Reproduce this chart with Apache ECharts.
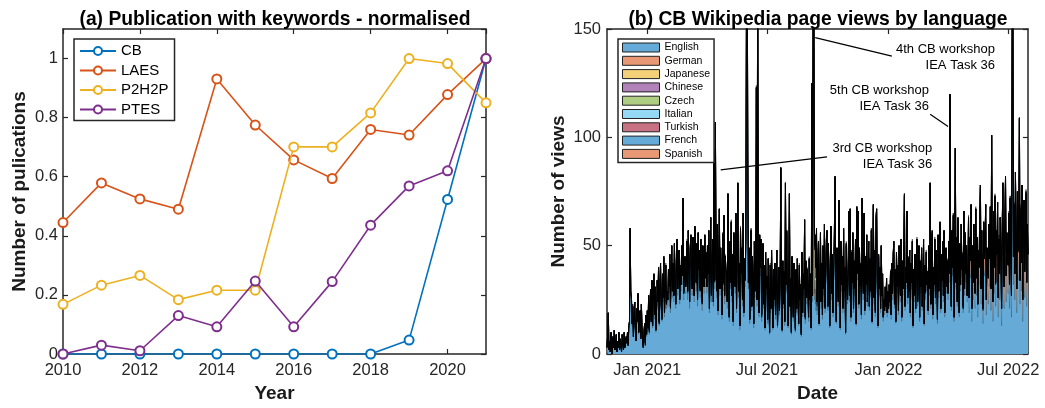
<!DOCTYPE html>
<html><head><meta charset="utf-8">
<script src="https://cdn.jsdelivr.net/npm/echarts@6/dist/echarts.min.js"></script>
<style>html,body{margin:0;padding:0;background:#fff}#c{width:1045px;height:408px}</style>
</head><body><div id="c"></div>
<script>
// ---------------- (a) publications ----------------
const YEARS = [2010,2011,2012,2013,2014,2015,2016,2017,2018,2019,2020,2021];
const CB    = [0,0,0,0,0,0,0,0,0,0.047,0.523,1];
const LAES  = [0.445,0.579,0.525,0.490,0.931,0.775,0.657,0.594,0.760,0.741,0.878,1];
const P2H2P = [0.168,0.233,0.266,0.184,0.216,0.216,0.701,0.701,0.816,1.0,0.983,0.850];
const PTES  = [0,0.030,0.011,0.130,0.092,0.247,0.092,0.245,0.436,0.569,0.620,1];

// ---------------- (b) daily page views, 2020-11-01 .. 2022-07-31 ----------------
const START_DATE = '2020-11-01';
const DATE_TICKS = ['2021-01-01','2021-07-01','2022-01-01','2022-07-01'];
const ENGLISH = [
3,8,18,2,6,1,9,4,0,7, 3,10,2,5,8,1,6,3,9,2, 7,4,1,8,5,2,9,3,6,7,
5,9,4,12,14,52,26,24,13,20, 8,17,22,11,6,19,14,24,9,15, 18,7,21,12,5,3,10,13,4,16, 8,
18,11,24,9,21,27,14,30,12,25, 33,16,28,10,19,31,22,36,13,27, 38,20,15,34,24,40,17,29,37,21, 26,
22,35,28,41,19,33,44,26,38,24, 46,30,21,39,48,27,35,43,23,37, 29,45,32,66,25,34,40,28,
30,47,25,52,38,21,44,50,33,27, 49,36,24,53,41,29,46,22,51,35, 43,26,48,32,20,45,39,28,50,31, 42,
28,45,33,52,19,40,57,24,36,48, 22,88,30,100,42,26,55,18,38,61, 27,44,34,16,50,29,58,23,41,35,
34,21,68,39,15,47,30,56,24,42, 13,51,36,28,60,19,45,72,26,38, 11,53,33,44,22,58,17,40,31,48, 150,
195,88,30,45,14,38,52,20,41,33, 12,47,26,39,116,22,170,44,17,50, 36,48,15,29,46,21,37,11,43,27,
32,14,40,24,9,37,19,42,28,11, 35,22,38,16,30,43,12,27,36,18, 33,80,25,10,39,21,34,13,74,29, 52,
26,12,36,70,20,31,9,41,24,15, 38,28,10,34,19,40,25,13,37,22, 29,8,42,17,33,27,57,14,39,23, 35,
28,15,40,22,33,11,118,24,185,150, 25,30,20,42,18,36,47,13,29,51, 21,38,16,44,27,55,19,34,48,52,
20,46,31,12,39,54,25,42,17,35, 49,75,28,14,44,33,22,66,38,11, 47,29,41,19,53,26,36,9,45,32, 23,
37,60,24,62,15,43,30,51,19,39, 27,48,13,62,34,61,21,45,28,38, 16,66,32,25,60,18,41,29,50,22,
35,47,20,40,26,52,14,37,63,23, 44,17,58,62,30,12,41,27,36,19, 45,24,33,15,22,18,28,20,31,17, 26,
19,29,22,34,16,38,25,41,46,21, 35,14,42,28,37,18,45,31,24,48, 15,39,27,44,66,20,36,30,60,23, 40,
26,43,17,38,30,47,12,35,24,41, 19,36,47,22,33,45,15,39,28,44, 20,31,48,13,37,25,42,29,
34,18,45,27,72,21,40,51,16,36, 29,48,23,43,33,14,50,26,38,55, 19,41,31,46,24,52,17,35,44,28, 39,
25,47,33,110,40,20,52,36,58,15, 44,88,30,49,22,56,38,17,46,29, 54,35,41,19,60,27,50,33,45,24,
28,52,19,43,35,57,15,40,25,49, 33,21,55,27,44,17,38,32,53,65, 23,46,30,14,50,36,42,57,18,39, 31,
23,44,31,51,20,82,37,15,50,28, 55,22,42,33,53,17,39,25,47,35, 13,44,61,30,21,48,62,24,41,32,
28,49,21,55,36,17,135,170,32,53, 25,67,40,19,58,34,46,90,23,51, 29,61,15,43,54,26,39,57,22,45, 33
];
const GERMAN = [
0,1,1,0,0,0,1,0,0,1, 0,1,0,0,1,0,0,0,1,0, 0,1,0,1,0,0,1,0,0,1,
0,1,0,1,1,5,3,2,1,2, 0,1,2,1,0,2,1,3,1,1, 2,0,2,1,0,0,1,1,0,2, 1,
2,1,3,1,2,3,1,3,1,2, 4,2,3,1,2,3,2,4,1,3, 4,2,1,3,2,4,2,3,4,2, 3,
3,4,3,5,2,4,5,3,4,3, 5,4,2,4,5,3,4,5,2,4, 3,5,4,5,3,4,5,3,
4,5,3,5,4,3,5,5,4,3, 5,4,3,5,4,3,5,3,5,4, 5,3,5,4,3,5,4,3,5,4, 5,
3,5,4,5,2,4,6,3,4,5, 2,5,3,6,4,3,5,2,4,6, 3,5,4,2,5,3,6,3,4,4,
4,3,5,4,2,5,3,5,3,4, 2,5,4,3,5,2,4,6,3,4, 2,5,4,5,3,6,2,4,3,5, 8,
10,5,3,4,2,4,5,2,4,3, 2,5,3,4,6,3,8,4,2,5, 4,5,2,3,5,2,4,1,4,3,
4,2,4,3,1,4,2,5,3,1, 4,3,4,2,3,5,1,3,4,2, 4,5,3,1,4,2,4,2,5,3, 4,
3,1,4,4,2,3,1,4,3,2, 4,3,1,4,2,4,3,1,4,3, 3,1,5,2,4,3,4,2,4,3, 4,
3,2,4,3,4,1,6,3,10,8, 3,4,3,5,2,4,5,1,3,5, 3,4,2,5,3,5,2,4,5,5,
2,5,3,1,4,5,3,4,2,4, 5,5,3,1,5,3,2,5,4,1, 5,3,4,2,5,3,4,1,5,3, 2,
4,5,3,5,2,4,3,5,2,4, 3,5,1,5,3,5,2,4,3,4, 2,5,3,3,5,2,4,3,5,2,
4,5,2,4,3,5,1,4,5,3, 4,2,5,5,3,1,4,3,4,2, 5,3,4,2,3,2,3,2,4,2, 3,
2,3,2,4,2,4,3,5,5,2, 4,1,5,3,4,2,5,3,3,5, 2,4,3,5,6,2,4,3,6,3, 4,
3,5,2,4,3,5,1,4,3,5, 2,4,5,2,4,5,2,4,3,5, 2,3,5,1,4,3,5,3,
4,2,5,3,6,2,4,5,2,4, 3,5,3,5,4,2,5,3,4,5, 2,5,3,5,3,5,2,4,5,3, 4,
3,5,4,8,4,2,5,4,6,2, 5,6,3,5,2,6,4,2,5,3, 6,4,5,2,6,3,5,4,5,3,
8,11,7,10,8,12,6,10,8,11, 8,7,12,8,10,6,10,8,11,12, 7,11,8,6,11,8,10,12,7,10, 8,
12,16,13,17,10,18,14,9,16,12, 18,10,15,13,17,9,14,12,16,14, 8,15,17,13,10,16,18,12,15,13,
13,16,11,17,14,10,17,20,13,16, 12,17,14,11,17,13,15,18,11,16, 13,17,10,15,17,12,14,17,11,15, 13
];
const JAPANESE = [
0,0,0,0,0,0,0,0,0,0, 0,0,0,0,0,0,0,0,0,0, 0,0,0,0,0,0,0,0,0,0,
0,0,0,0,0,1,0,0,0,0, 0,0,0,0,0,0,0,0,0,0, 0,0,0,0,0,0,0,0,0,0, 0,
0,0,0,0,0,0,0,1,0,0, 0,0,0,0,0,0,0,0,0,0, 0,1,0,0,0,0,0,0,0,0, 0,
0,0,0,0,0,0,1,0,0,0, 0,0,0,0,0,0,0,0,0,0, 0,0,0,1,0,0,0,0,
0,0,1,0,0,0,0,0,0,0, 0,0,0,0,0,1,0,0,0,0, 0,0,0,0,0,0,0,0,0,0, 0,
0,0,0,0,0,0,0,0,0,0, 0,1,0,1,0,0,0,0,0,0, 0,0,0,0,0,0,0,1,0,0,
0,0,1,0,0,0,0,0,0,0, 0,0,0,0,0,0,0,0,0,0, 0,0,0,0,0,1,0,0,0,0, 1,
1,0,0,0,0,0,0,0,0,0, 0,0,0,0,1,0,1,0,0,0, 0,0,0,0,0,0,0,0,0,0,
0,0,0,0,0,0,0,1,0,0, 0,0,0,0,0,0,0,0,0,0, 0,1,0,0,0,0,0,0,0,0, 0,
0,0,0,0,0,0,0,0,0,0, 0,0,0,1,0,0,0,0,0,0, 0,0,0,0,0,0,1,0,0,0, 0,
0,0,0,0,0,0,1,0,2,15, 20,18,12,6,2,1,0,0,0,0, 0,0,0,1,0,0,0,0,0,0,
0,0,0,0,0,0,0,0,0,0, 1,1,0,0,0,0,0,0,0,0, 0,0,0,0,0,0,0,0,0,0, 0,
0,1,0,0,0,0,0,0,0,0, 0,0,0,0,0,0,0,0,0,0, 0,1,0,0,0,0,0,0,0,0,
0,0,0,0,0,0,0,0,1,0, 0,0,0,0,0,0,0,0,0,0, 0,0,0,0,0,0,0,0,0,0, 0,
0,0,0,0,0,0,0,0,0,0, 0,0,0,0,0,0,0,0,0,0, 0,0,0,0,1,0,0,0,0,0, 0,
0,0,0,0,0,0,0,0,0,0, 0,0,1,0,0,0,0,0,0,0, 0,0,0,0,0,0,0,0,
0,0,0,0,1,0,0,0,0,0, 0,0,0,0,0,0,0,0,0,0, 0,0,0,1,0,0,0,0,0,0, 0,
0,0,0,1,0,0,0,0,0,0, 0,1,0,0,0,0,0,0,0,0, 0,0,0,0,0,0,0,0,0,0,
0,0,0,0,0,0,0,0,0,0, 0,0,0,0,0,0,0,0,1,1, 0,0,0,0,0,0,0,0,0,0, 0,
0,0,0,0,0,1,0,0,0,0, 0,0,0,0,0,0,0,0,0,0, 0,0,1,0,0,0,1,0,0,0,
0,0,0,0,0,0,1,2,0,0, 0,0,0,0,0,0,0,1,0,0, 0,0,0,0,0,0,0,0,0,0, 0
];
const CHINESE = [
0,0,0,0,0,0,0,0,0,0, 0,0,0,0,0,0,0,0,0,0, 0,0,0,0,0,0,0,0,0,0,
0,0,0,0,0,0,0,0,0,0, 0,0,0,0,0,0,0,1,0,0, 0,0,0,0,0,0,0,0,0,0, 0,
0,0,0,0,0,0,0,0,0,0, 0,0,0,0,0,0,0,0,0,0, 0,0,0,0,0,1,0,0,0,0, 0,
0,0,0,0,1,0,0,0,0,0, 0,0,0,0,0,0,0,0,0,0, 0,0,0,0,0,0,0,0,
0,0,0,0,0,0,0,0,0,0, 0,0,0,1,0,0,0,0,0,0, 0,0,0,0,0,0,0,0,0,0, 0,
0,0,0,0,0,0,0,0,0,0, 0,0,1,0,0,0,0,0,0,0, 0,0,0,0,0,1,0,0,0,0,
0,0,0,0,0,0,0,0,0,0, 0,0,0,0,0,0,0,1,0,0, 0,0,0,0,0,0,0,0,0,0, 1,
0,1,0,0,0,0,0,0,0,0, 0,0,0,0,0,0,1,0,0,0, 0,0,0,0,0,0,0,0,0,0,
0,0,0,0,0,0,0,0,0,0, 0,0,0,0,1,0,0,0,0,0, 0,0,0,0,0,0,0,0,0,0, 0,
0,0,0,0,0,0,0,0,0,0, 0,0,0,0,0,0,0,0,0,0, 0,0,0,0,0,0,0,1,0,0, 0,
0,0,0,0,0,0,0,0,1,1, 2,3,5,4,2,1,0,0,0,0, 0,0,0,0,0,0,0,0,0,0,
0,0,0,0,0,0,0,0,0,0, 0,1,0,0,0,0,0,0,0,0, 0,0,0,0,0,0,0,0,0,0, 0,
0,0,0,0,0,0,0,0,0,0, 0,0,0,1,0,0,0,0,0,0, 0,0,0,0,0,0,0,0,0,0,
0,0,0,0,0,0,0,0,0,0, 0,0,0,0,0,0,0,0,0,0, 0,0,0,0,0,0,0,0,0,0, 0,
0,0,0,0,0,0,0,0,1,0, 0,0,0,0,0,0,0,0,0,0, 0,0,0,0,0,0,0,0,0,0, 0,
0,0,0,0,0,0,0,0,0,0, 0,0,0,0,0,0,0,0,0,0, 0,0,0,0,0,1,0,0,
0,0,0,0,0,0,0,0,0,0, 0,0,0,0,0,0,0,0,0,1, 0,0,0,0,0,0,0,0,0,0, 0,
0,0,0,1,0,0,0,0,0,0, 0,0,0,0,0,0,0,0,0,0, 0,0,0,0,0,0,1,0,0,0,
0,0,0,0,0,0,0,0,0,0, 0,0,0,0,0,0,0,0,0,0, 0,0,0,1,0,0,0,0,0,0, 0,
0,0,0,0,0,0,0,0,0,0, 0,1,0,0,0,0,0,0,0,0, 0,0,0,0,0,0,0,0,0,0,
0,0,0,0,0,0,0,1,0,0, 0,0,0,0,0,0,0,0,0,0, 0,0,0,0,0,0,0,0,0,0, 0
];
const CZECH = [
0,0,0,0,0,0,0,0,0,0, 0,0,0,0,0,0,0,0,0,0, 0,0,0,0,0,0,0,0,0,0,
0,0,0,0,0,0,0,0,0,0, 0,0,0,0,0,0,0,0,0,0, 0,0,0,0,0,0,0,0,1,0, 0,
0,0,0,1,0,0,0,0,0,0, 0,0,0,0,0,0,0,0,0,0, 0,0,0,0,0,0,0,0,0,0, 0,
0,0,0,0,0,0,0,0,0,0, 0,0,0,0,0,0,1,0,0,0, 0,0,0,0,0,0,0,0,
0,0,0,0,0,0,0,0,0,0, 0,0,0,0,0,0,0,0,0,0, 0,0,0,0,1,0,0,0,0,0, 0,
0,0,0,0,0,0,0,0,0,0, 0,0,0,0,0,0,0,0,1,0, 0,0,0,0,0,0,0,0,0,0,
0,0,0,0,0,0,1,0,0,0, 0,0,0,0,0,0,0,0,0,0, 0,0,0,0,0,0,0,0,0,0, 0,
0,0,0,0,0,0,0,0,0,0, 0,0,0,0,0,0,0,0,0,0, 0,0,1,0,0,0,0,0,0,0,
0,0,0,0,0,0,0,0,0,0, 0,0,0,0,0,0,0,0,0,0, 0,0,0,0,0,0,0,0,0,0, 1,
0,0,0,0,0,1,0,0,0,0, 0,0,0,0,0,0,0,0,0,0, 0,0,0,0,0,0,0,0,0,0, 0,
0,0,0,0,0,0,0,0,0,0, 0,0,0,1,0,0,0,0,0,0, 0,0,0,0,0,0,0,0,0,0,
0,0,0,0,0,0,0,0,0,0, 0,0,0,0,0,0,0,0,0,0, 0,0,0,0,0,0,0,0,1,0, 0,
0,0,1,0,0,0,0,0,0,0, 0,0,0,0,0,0,0,0,0,0, 0,0,0,0,0,0,0,0,0,0,
0,0,0,0,0,0,0,0,0,0, 0,0,0,0,0,0,1,0,0,0, 0,0,0,0,0,0,0,0,0,0, 0,
0,0,0,0,0,0,0,0,0,0, 0,0,0,0,0,0,0,0,0,0, 0,0,0,0,0,0,0,0,0,0, 0,
0,0,0,0,0,0,0,0,1,0, 0,0,0,0,0,0,0,0,0,0, 0,0,0,0,0,0,0,0,
0,0,0,0,0,0,0,0,0,0, 0,0,0,0,0,0,0,0,0,0, 0,0,0,0,0,0,0,1,0,0, 0,
0,0,0,0,0,0,0,0,0,0, 0,0,0,0,0,1,0,0,0,0, 0,0,0,0,0,0,0,0,0,0,
0,0,0,1,0,0,0,0,0,0, 0,0,0,0,0,0,0,0,0,0, 0,0,0,0,0,0,0,0,0,0, 0,
0,0,0,0,0,0,0,0,0,0, 0,0,0,0,0,0,0,0,0,0, 0,0,0,0,0,0,1,0,0,0,
0,0,0,0,0,0,0,0,0,0, 0,0,0,0,0,1,0,0,0,0, 0,0,0,0,0,0,0,0,0,0, 0
];
const ITALIAN = [
0,0,0,0,0,0,0,0,0,0, 0,0,0,0,0,0,0,0,0,0, 0,0,0,0,0,0,0,0,0,0,
0,0,0,0,0,0,0,0,0,0, 0,0,0,0,0,0,0,0,0,0, 0,0,0,0,0,0,0,0,0,0, 1,
0,0,0,0,0,0,0,0,0,0, 0,0,0,0,0,0,0,0,1,0, 0,0,0,0,0,0,0,0,0,0, 0,
0,0,1,0,0,0,0,0,0,0, 0,0,0,0,0,0,0,0,0,0, 0,0,0,0,0,0,0,0,
0,0,0,0,0,0,0,0,0,0, 0,0,0,0,0,0,0,0,0,0, 0,1,0,0,0,0,0,0,0,0, 0,
0,0,0,0,0,0,0,1,0,0, 0,0,0,0,0,0,0,0,0,0, 0,0,0,0,0,0,0,0,0,0,
0,0,0,0,0,0,0,0,0,0, 0,0,0,0,0,1,0,0,0,0, 0,0,0,0,0,0,0,0,0,0, 0,
0,0,0,0,0,0,0,0,0,1, 0,0,0,0,0,0,0,0,0,0, 0,0,0,0,0,0,0,0,0,0,
0,0,0,0,0,0,0,0,0,0, 0,0,0,0,0,0,0,0,0,0, 0,0,0,0,0,1,0,0,0,0, 0,
0,0,0,0,0,0,0,0,0,0, 0,0,1,0,0,0,0,0,0,0, 0,0,0,0,0,0,0,0,0,0, 0,
0,0,0,0,0,0,0,0,0,0, 0,0,0,0,0,0,0,0,0,0, 0,0,0,0,0,0,1,0,0,0,
0,0,0,0,1,0,0,0,0,0, 0,0,0,0,0,0,0,0,0,0, 0,0,0,0,0,0,0,0,0,0, 0,
0,0,0,0,0,0,0,0,0,0, 0,0,0,0,0,0,0,0,0,0, 0,0,0,0,0,0,0,1,0,0,
0,0,0,0,0,0,0,0,0,0, 0,1,0,0,0,0,0,0,0,0, 0,0,0,0,0,0,0,0,0,0, 0,
0,0,0,0,0,0,0,0,0,0, 0,0,0,0,0,0,0,0,0,0, 0,0,0,0,1,0,0,0,0,0, 0,
0,0,0,0,0,0,0,0,0,0, 0,0,0,0,1,0,0,0,0,0, 0,0,0,0,0,0,0,0,
0,0,0,0,0,0,0,1,0,0, 0,0,0,0,0,0,0,0,0,0, 0,0,0,0,0,0,0,0,0,0, 0,
0,0,0,0,0,0,0,0,0,0, 0,0,0,0,0,0,0,0,0,0, 0,0,0,1,0,0,0,0,0,0,
0,0,0,0,0,0,0,0,0,0, 0,0,0,0,0,0,0,0,1,0, 0,0,0,0,0,0,0,0,0,0, 0,
0,0,1,0,0,0,0,0,0,0, 0,0,0,0,0,0,0,0,0,0, 0,0,0,0,0,0,0,0,0,0,
0,0,0,0,0,0,0,0,0,0, 0,0,0,0,0,0,0,0,0,0, 0,0,0,0,0,0,0,1,0,0, 0
];
const TURKISH = [
0,0,0,0,0,0,0,0,0,0, 0,0,0,0,0,0,0,0,0,0, 0,0,0,0,0,0,0,0,0,0,
0,0,0,0,0,0,0,0,0,0, 0,0,0,0,0,0,0,0,0,0, 0,0,0,0,0,0,0,0,0,0, 0,
0,0,0,0,0,0,0,0,0,0, 0,0,0,0,0,0,0,0,0,0, 0,0,0,0,0,0,0,0,0,0, 0,
0,0,0,0,0,0,0,0,0,0, 0,0,0,0,0,0,0,0,0,0, 0,0,0,0,0,1,0,0,
0,0,0,0,0,0,0,0,0,0, 0,0,0,0,0,0,0,0,0,0, 0,0,0,0,0,0,0,0,0,0, 0,
0,0,0,0,0,0,0,0,0,0, 0,0,0,0,0,1,0,0,0,0, 0,0,0,0,0,0,0,0,0,0,
0,0,0,0,0,0,0,0,0,0, 0,0,0,0,0,0,0,0,0,0, 0,0,0,0,0,0,0,0,0,0, 0,
0,0,0,0,0,0,0,0,0,0, 0,0,0,0,0,0,0,0,0,0, 0,0,0,0,0,0,0,0,0,0,
0,0,0,0,0,0,0,0,1,0, 0,0,0,0,0,0,0,0,0,0, 0,0,0,0,0,0,0,0,0,0, 0,
0,0,0,0,0,0,0,0,0,0, 0,0,0,0,0,0,0,0,0,0, 0,0,0,0,0,0,0,0,0,0, 0,
0,0,0,0,0,0,0,0,0,0, 0,0,0,0,0,0,0,0,0,0, 0,0,0,0,0,0,0,0,0,0,
0,0,0,0,0,0,0,0,0,0, 0,0,0,0,0,0,0,0,0,0, 0,0,0,1,0,0,0,0,0,0, 0,
0,0,0,0,0,0,0,0,0,0, 0,0,0,0,0,0,0,0,0,0, 0,0,0,0,0,0,0,0,0,0,
0,0,0,0,0,0,0,0,0,0, 0,0,0,0,0,0,0,0,0,0, 0,0,0,0,0,0,0,0,0,0, 0,
0,0,0,0,0,0,0,0,0,0, 0,0,0,0,0,0,0,1,0,0, 0,0,0,0,0,0,0,0,0,0, 0,
0,0,0,0,0,0,0,0,0,0, 0,0,0,0,0,0,0,0,0,0, 0,0,0,0,0,0,0,0,
0,0,0,0,0,0,0,0,0,0, 0,0,0,0,0,0,0,0,0,0, 0,0,0,0,0,0,0,0,0,0, 0,
0,0,0,0,0,0,0,0,0,0, 0,0,0,0,0,0,0,0,0,0, 0,1,0,0,0,0,0,0,0,0,
0,0,0,0,0,0,0,0,0,0, 0,0,0,0,0,0,0,0,0,0, 0,0,0,0,0,0,0,0,0,0, 0,
0,0,0,0,0,0,0,0,0,0, 0,0,0,0,0,0,0,1,0,0, 0,0,0,0,0,0,0,0,0,0,
0,0,0,0,0,0,0,0,0,0, 0,0,0,0,0,0,0,0,0,0, 0,0,0,0,0,0,0,0,0,0, 0
];
const FRENCH = [
0,0,0,0,0,0,0,0,0,0, 0,0,0,0,0,0,0,0,0,0, 0,0,0,0,0,0,0,0,0,0,
0,0,0,0,0,0,0,0,0,1, 0,0,0,0,0,0,0,0,0,0, 0,0,0,0,0,0,0,0,0,0, 0,
0,0,0,0,0,0,0,0,0,0, 0,0,0,0,0,0,0,0,0,0, 0,0,1,0,0,0,0,0,0,0, 0,
0,0,0,0,0,0,0,0,0,0, 0,0,0,0,0,0,0,0,1,0, 0,0,0,0,0,0,0,0,
0,0,0,0,0,1,0,0,0,0, 0,0,0,0,0,0,0,0,0,0, 0,0,0,0,0,0,0,0,0,0, 0,
0,0,0,0,0,0,0,0,0,0, 0,0,0,0,0,0,0,0,0,0, 0,0,0,0,1,0,0,0,0,0,
0,0,0,0,0,0,0,0,0,0, 0,0,0,0,0,0,0,0,0,0, 0,0,0,0,0,0,0,0,1,0, 0,
0,0,0,0,0,0,1,0,0,0, 0,0,0,0,0,0,0,0,0,0, 0,0,0,0,0,0,0,0,0,0,
0,0,0,0,0,0,0,0,0,0, 0,0,0,0,0,0,0,0,0,1, 0,0,0,0,0,0,0,0,0,0, 0,
0,0,0,0,0,0,0,0,0,0, 0,0,0,0,0,0,0,0,0,0, 0,1,0,0,0,0,0,0,0,0, 0,
0,0,0,0,0,0,0,0,1,0, 0,0,0,0,0,0,0,0,0,0, 0,0,0,0,0,0,0,0,0,0,
0,0,0,0,0,0,0,0,0,0, 0,0,0,0,0,0,1,0,0,0, 0,0,0,0,0,0,0,0,0,0, 0,
0,0,0,0,0,0,0,0,0,0, 0,0,0,0,0,0,0,0,0,0, 0,0,0,0,0,1,0,0,0,0,
0,0,0,0,0,1,0,0,0,0, 0,0,0,0,0,0,0,0,0,0, 0,0,0,0,0,0,0,0,0,0, 0,
0,0,0,0,0,0,0,0,0,0, 0,0,0,0,0,0,0,0,0,0, 0,0,0,0,0,0,0,0,0,0, 1,
0,0,0,0,0,0,0,0,0,0, 0,0,0,1,0,0,0,0,0,0, 0,0,0,0,0,0,0,0,
0,0,0,0,0,0,0,0,0,0, 0,0,0,0,0,0,0,0,0,0, 0,0,0,0,0,0,0,0,0,1, 0,
0,0,0,0,0,0,0,0,1,0, 0,0,0,0,0,0,0,0,0,0, 0,0,0,0,0,0,0,0,0,0,
0,0,0,0,0,0,0,0,0,0, 0,0,0,0,0,0,0,0,0,0, 0,0,1,0,0,0,0,0,0,0, 0,
0,0,0,0,0,0,0,0,0,0, 0,0,0,0,0,0,0,1,0,0, 0,0,0,0,0,0,0,0,0,0,
0,0,0,1,0,0,0,0,0,0, 0,0,0,0,0,0,0,0,0,0, 0,0,0,0,0,0,0,0,0,0, 0
];
const SPANISH = [
0,0,0,0,0,0,0,0,0,0, 0,0,0,0,0,0,0,0,0,0, 0,0,0,0,0,0,0,0,0,0,
0,0,0,0,0,0,0,0,0,0, 0,0,0,0,0,0,0,0,0,1, 0,0,0,0,0,0,0,0,0,0, 0,
0,0,0,0,0,0,0,0,1,0, 0,0,0,0,0,0,0,0,0,0, 0,0,0,0,0,0,0,0,1,0, 0,
0,0,0,0,0,0,0,0,0,0, 0,0,1,0,0,0,0,0,0,0, 0,0,0,0,1,0,0,0,
0,1,0,0,0,0,0,0,0,0, 0,0,0,0,0,0,0,1,0,0, 0,0,0,0,0,0,0,0,0,0, 0,
0,0,0,0,0,0,0,0,0,0, 0,1,0,0,0,0,0,0,0,0, 0,0,0,0,0,0,0,0,1,0,
0,0,0,0,0,0,0,1,0,0, 0,0,0,0,0,0,0,0,0,0, 0,1,0,0,0,0,0,0,0,0, 0,
0,0,0,0,0,0,0,0,0,0, 0,0,0,0,1,0,0,0,0,0, 0,0,0,0,0,0,0,0,0,1,
0,0,0,0,0,1,0,0,0,0, 0,0,0,0,0,0,0,0,0,0, 0,0,0,0,0,0,0,1,0,0, 0,
0,0,0,0,0,0,0,0,0,0, 0,0,0,0,0,0,0,0,1,0, 0,0,0,0,0,0,0,0,0,0, 1,
0,0,1,0,0,0,0,0,0,0, 0,0,0,0,0,0,0,0,0,0, 0,0,0,0,1,0,0,0,0,0,
0,0,0,0,0,0,0,0,0,0, 0,0,0,0,0,0,1,0,0,0, 0,0,0,0,0,0,0,0,1,0, 0,
0,0,0,0,0,1,0,0,0,0, 0,0,0,0,0,0,0,0,0,0, 0,0,0,0,0,0,0,1,0,0,
0,0,0,0,0,0,0,0,0,0, 0,0,0,0,1,0,0,0,0,0, 0,0,0,0,0,0,0,0,0,0, 0,
0,0,0,1,0,0,0,0,0,0, 0,0,0,0,0,0,0,0,1,0, 0,0,0,0,0,0,0,0,0,0, 0,
0,0,0,0,0,1,0,0,0,0, 0,0,1,0,0,0,0,0,0,0, 0,0,0,0,0,0,1,0,
0,0,0,0,0,0,0,0,0,0, 0,1,0,0,0,0,0,0,1,0, 0,0,0,0,0,0,0,0,0,0, 1,
0,0,1,0,0,0,0,0,0,0, 0,0,0,0,1,0,0,0,0,0, 0,0,1,0,0,0,0,0,0,0,
0,1,0,0,0,0,2,0,0,0, 0,0,1,0,0,0,0,0,1,0, 0,0,0,0,0,2,0,0,0,0, 1,
0,0,1,0,0,0,0,2,0,0, 1,0,0,0,0,0,2,0,0,0, 0,1,0,0,0,0,0,1,0,0,
0,1,0,0,0,2,0,0,0,1, 0,0,0,1,0,0,0,0,0,2, 0,0,1,0,0,0,0,1,0,0, 0
];
const LANG_NAMES = ['English','German','Japanese','Chinese','Czech','Italian','Turkish','French','Spanish'];
const LANG_DATA  = [ENGLISH, GERMAN, JAPANESE, CHINESE, CZECH, ITALIAN, TURKISH, FRENCH, SPANISH];

// annotations: [text, text-anchor date, text-anchor value, arrow tail date, tail value, arrow head date, head value]
const ANNOTATIONS = [
  ['4th CB workshop\nIEA Task 36', '2022-06-11', 137, '2022-01-06', 137.5, '2021-09-12', 146],
  ['5th CB workshop\nIEA Task 36', '2022-03-03', 118, '2022-03-05', 110.7, '2022-04-01', 105],
  ['3rd CB workshop\nIEA Task 36', '2022-03-08', 91,  '2021-09-30', 91,    '2021-04-22', 85]
];

// ------------------------------------------------------------------
LANG_DATA.forEach((a, i) => {
  if (a.length !== ENGLISH.length) throw new Error(LANG_NAMES[i] + ' has ' + a.length + ' values, English has ' + ENGLISH.length);
});
const t0 = Date.parse(START_DATE + 'T00:00:00Z');
const DATES = ENGLISH.map((_, i) => new Date(t0 + i * 86400000).toISOString().slice(0, 10));
const MONTHS = ['Jan','Feb','Mar','Apr','May','Jun','Jul','Aug','Sep','Oct','Nov','Dec'];

const FONT = '"Liberation Sans", Arial, Helvetica, sans-serif';
const AX = '#262626';
const PUB_COLORS = ['#0072BD', '#D95319', '#EDB120', '#7E2F8E'];
const LANG_COLORS = ['#66aad7','#e89875','#f4d079','#b282bb','#adcd83','#94d8f5','#c77282','#66aad7','#e89875'];
// edge colour of each stacked area: lower layers lighter (thin edges), top layers black
const EDGE_COLORS = ['rgba(0,0,0,0.4)','rgba(0,0,0,0.45)','#000','#000','#000','#000','#000','#000','#000'];

function frameAxis(extra) {
  return Object.assign({
    axisLine: { show: true, onZero: false, lineStyle: { color: AX, width: 1.5 } },
    axisTick: { show: true, inside: true, length: 5, lineStyle: { color: AX, width: 1.2 } },
    axisLabel: { show: false },
    splitLine: { show: false }
  }, extra);
}
const labelStyle = { show: true, color: AX, fontSize: 16.5, fontFamily: FONT };
const nameStyle = { color: '#1a1a1a', fontSize: 19, fontWeight: 'bold', fontFamily: FONT };
const isDateTick = (i, v) => DATE_TICKS.indexOf(v) >= 0;

const pubSeries = [['CB', CB], ['LAES', LAES], ['P2H2P', P2H2P], ['PTES', PTES]].map(([name, vals], k) => ({
  name, type: 'line', xAxisIndex: 0, yAxisIndex: 0,
  data: YEARS.map((y, i) => [y, vals[i]]),
  symbol: 'emptyCircle', symbolSize: 9,
  color: PUB_COLORS[k],
  lineStyle: { color: PUB_COLORS[k], width: 1.6 },
  itemStyle: { color: PUB_COLORS[k], borderWidth: 1.5 },
  z: 3 + k
}));

const langSeries = LANG_NAMES.map((name, k) => ({
  name, type: 'line', xAxisIndex: 2, yAxisIndex: 2, stack: 'views',
  data: LANG_DATA[k],
  showSymbol: false, symbol: 'none',
  lineStyle: { color: EDGE_COLORS[k], width: 0.5 },
  areaStyle: { color: LANG_COLORS[k], opacity: 1 },
  itemStyle: { color: LANG_COLORS[k] },
  emphasis: { disabled: true },
  z: 2
}));

const annotSeries = {
  name: '__annot', type: 'line', xAxisIndex: 2, yAxisIndex: 2, data: [], silent: true, z: 10,
  markLine: {
    silent: true, animation: false,
    symbol: ['none', 'arrow'], symbolSize: [0, 11],
    lineStyle: { color: '#000', width: 1.2, type: 'solid' },
    label: { show: false }, emphasis: { disabled: true },
    data: ANNOTATIONS.map(a => [{ coord: [a[3], a[4]] }, { coord: [a[5], a[6]] }])
  },
  markPoint: {
    silent: true, animation: false, symbol: 'circle', symbolSize: 0,
    itemStyle: { color: 'rgba(0,0,0,0)' },
    label: { show: true, position: 'inside', align: 'right', verticalAlign: 'middle',
             color: '#000', fontSize: 13, lineHeight: 16, fontFamily: FONT },
    data: ANNOTATIONS.map(a => ({ coord: [a[1], a[2]], label: { formatter: a[0] } }))
  }
};

const option = {
  animation: false,
  backgroundColor: '#fff',
  textStyle: { fontFamily: FONT },
  title: [
    { text: '(a) Publication with keywords - normalised', left: 270, top: 5, textAlign: 'center',
      textStyle: { fontSize: 19.3, fontWeight: 'bold', color: '#000', fontFamily: FONT } },
    { text: '(b) CB Wikipedia page views by language', left: 813, top: 5, textAlign: 'center',
      textStyle: { fontSize: 19.3, fontWeight: 'bold', color: '#000', fontFamily: FONT } }
  ],
  grid: [
    { left: 63, top: 29, width: 423, height: 325, containLabel: false },
    { left: 607, top: 29, width: 421, height: 325, containLabel: false }
  ],
  legend: [
    { data: ['CB', 'LAES', 'P2H2P', 'PTES'], orient: 'vertical', left: 74, top: 39,
      itemWidth: 36, itemHeight: 10, itemGap: 3.5, padding: [4, 6, 3, 5],
      borderColor: AX, borderWidth: 1.5, backgroundColor: '#fff',
      textStyle: { color: '#000', fontSize: 15, lineHeight: 16, fontFamily: FONT },
      selectedMode: false, z: 20 },
    { data: LANG_NAMES.map((n, k) => ({ name: n, icon: 'rect',
        itemStyle: { color: LANG_COLORS[k], borderColor: '#222', borderWidth: 1 } })),
      orient: 'vertical', left: 618, top: 39,
      itemWidth: 37, itemHeight: 9, itemGap: 2.3, padding: [3, 4, 3, 4],
      borderColor: AX, borderWidth: 1.5, backgroundColor: '#fff',
      textStyle: { color: '#000', fontSize: 10.5, lineHeight: 11, fontFamily: FONT },
      selectedMode: false, z: 20 }
  ],
  xAxis: [
    frameAxis({ gridIndex: 0, type: 'value', min: 2010, max: 2021, interval: 2,
      axisLabel: Object.assign({}, labelStyle, { margin: 8, showMaxLabel: false, formatter: v => String(v) }),
      name: 'Year', nameLocation: 'middle', nameGap: 30, nameTextStyle: nameStyle }),
    frameAxis({ gridIndex: 0, type: 'value', position: 'top', min: 2010, max: 2021, interval: 2 }),
    frameAxis({ gridIndex: 1, type: 'category', data: DATES, boundaryGap: false,
      axisTick: { show: true, inside: true, length: 5, interval: isDateTick, lineStyle: { color: AX, width: 1.2 } },
      axisLabel: Object.assign({}, labelStyle, { margin: 8, interval: isDateTick,
        formatter: v => MONTHS[+v.slice(5, 7) - 1] + ' ' + v.slice(0, 4) }),
      name: 'Date', nameLocation: 'middle', nameGap: 30, nameTextStyle: nameStyle }),
    frameAxis({ gridIndex: 1, type: 'category', data: DATES, boundaryGap: false, position: 'top',
      axisTick: { show: true, inside: true, length: 5, interval: isDateTick, lineStyle: { color: AX, width: 1.2 } } })
  ],
  yAxis: [
    frameAxis({ gridIndex: 0, type: 'value', min: 0, max: 1.1, interval: 0.2,
      axisLabel: Object.assign({}, labelStyle, { margin: 5, showMaxLabel: false }),
      name: 'Number of pulications', nameLocation: 'middle', nameGap: 34, nameTextStyle: nameStyle }),
    frameAxis({ gridIndex: 0, type: 'value', position: 'right', min: 0, max: 1.1, interval: 0.2 }),
    frameAxis({ gridIndex: 1, type: 'value', min: 0, max: 150, interval: 50,
      axisLabel: Object.assign({}, labelStyle, { margin: 6 }),
      name: 'Number of views', nameLocation: 'middle', nameGap: 39, nameTextStyle: nameStyle }),
    frameAxis({ gridIndex: 1, type: 'value', position: 'right', min: 0, max: 150, interval: 50 })
  ],
  series: pubSeries.concat(langSeries, [annotSeries])
};

const chart = echarts.init(document.getElementById('c'), null, { renderer: 'canvas' });
chart.setOption(option);
</script>
</body></html>
